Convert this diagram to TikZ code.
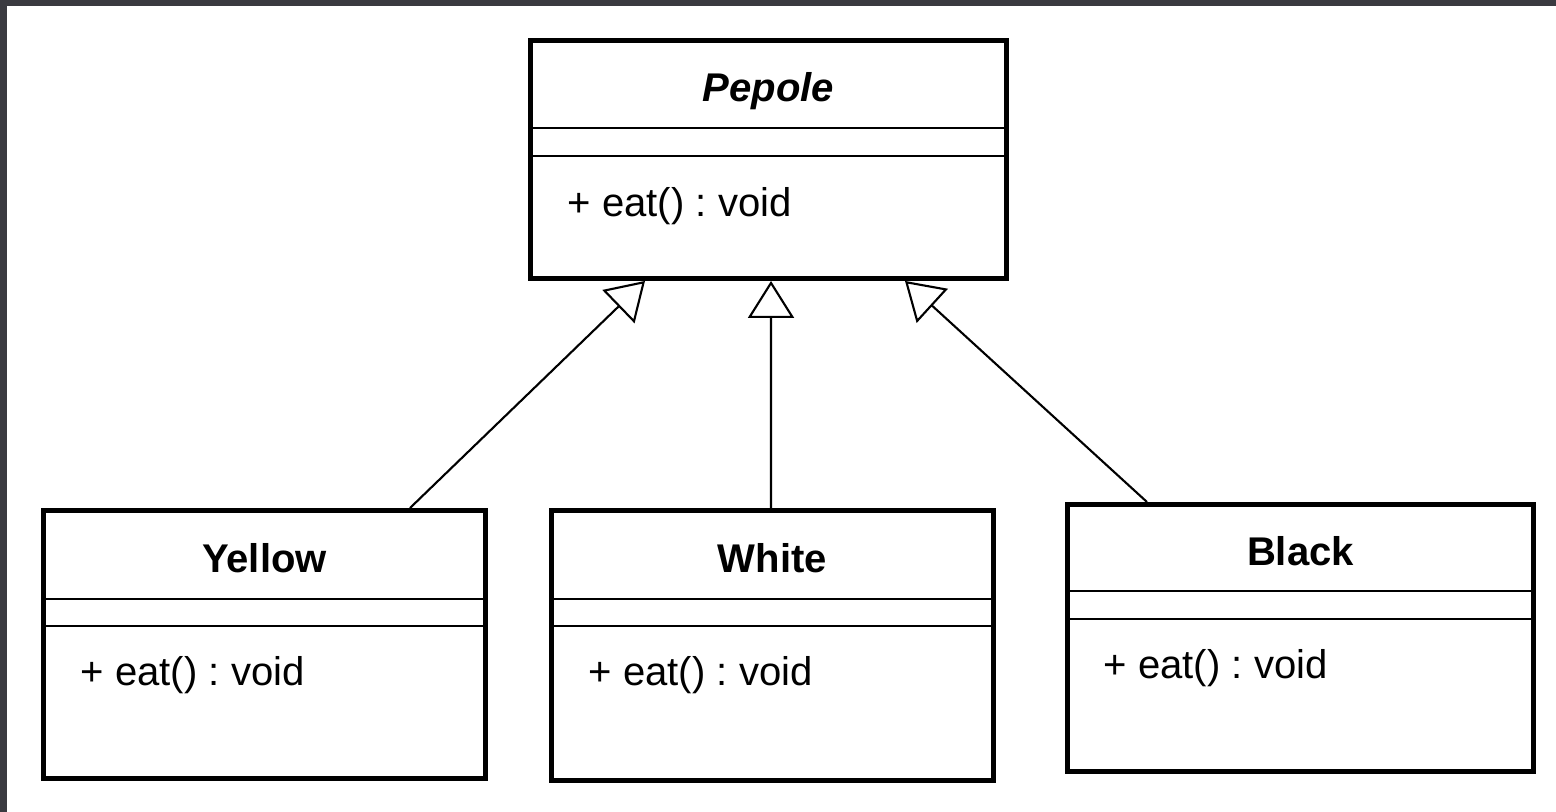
\documentclass[tikz,border=0pt]{standalone}
\usepackage{fontspec}
\setmainfont{Liberation Sans}
\frenchspacing
\usetikzlibrary{arrows.meta, positioning, calc}
\definecolor{frameDark}{RGB}{58, 58, 64}
\tikzset{
    % Class Box Style
    classBox/.style={
        rectangle,
        draw=black,
        line width=1.4pt,
        fill=white,
        inner sep=0pt
    },
    % Text Styles
    classTitle/.style={font=\fontsize{11.4}{13}\selectfont\bfseries, inner sep=0pt},
    classMethod/.style={font=\fontsize{11.4}{13}\selectfont, anchor=west, inner sep=0pt},
    % Line & Arrow Styles
    compartment/.style={line width=0.8pt},
    inherit/.style={-{Triangle[open, length=3.7mm, width=4.6mm]}, line width=0.6pt}
}

\begin{document}
\begin{tikzpicture}

    % --- Frame ---
    \useasboundingbox (0,0) rectangle (15.56,8.12);
    \fill[white] (0,0) rectangle (15.56,8.12);
    \fill[frameDark] (0,8.06) rectangle (15.56,8.12);
    \fill[frameDark] (0,0) rectangle (0.07,8.12);

    % --- PARENT CLASS ---
    \node (pepole) [classBox, minimum width=4.76cm, minimum height=2.38cm] at (7.685,6.525) {};
    \node (pepoleTitle) [classTitle] at ([yshift=-0.53cm]pepole.north) {\textit{Pepole}};
    \draw [compartment] ([yshift=-0.9cm]pepole.north west) -- ([yshift=-0.9cm]pepole.north east);
    \draw [compartment] ([yshift=-1.18cm]pepole.north west) -- ([yshift=-1.18cm]pepole.north east);
    \node (pepoleMethod) [classMethod] at ([xshift=0.39cm, yshift=-1.68cm]pepole.north west) {+ eat() : void};

    % --- CHILD CLASSES ---

    % 1. Yellow
    \node (yellow) [classBox, minimum width=4.42cm, minimum height=2.68cm] at (2.645,1.675) {};
    \node (yellowTitle) [classTitle] at ([yshift=-0.5cm]yellow.north) {Yellow};
    \draw [compartment] ([yshift=-0.91cm]yellow.north west) -- ([yshift=-0.91cm]yellow.north east);
    \draw [compartment] ([yshift=-1.18cm]yellow.north west) -- ([yshift=-1.18cm]yellow.north east);
    \node (yellowMethod) [classMethod] at ([xshift=0.39cm, yshift=-1.67cm]yellow.north west) {+ eat() : void};

    % 2. White
    \node (white) [classBox, minimum width=4.42cm, minimum height=2.70cm] at (7.725,1.665) {};
    \node (whiteTitle) [classTitle] at ([yshift=-0.5cm]white.north) {White};
    \draw [compartment] ([yshift=-0.91cm]white.north west) -- ([yshift=-0.91cm]white.north east);
    \draw [compartment] ([yshift=-1.18cm]white.north west) -- ([yshift=-1.18cm]white.north east);
    \node (whiteMethod) [classMethod] at ([xshift=0.39cm, yshift=-1.67cm]white.north west) {+ eat() : void};

    % 3. Black
    \node (black) [classBox, minimum width=4.66cm, minimum height=2.67cm] at (13.005,1.74) {};
    \node (blackTitle) [classTitle] at ([yshift=-0.49cm]black.north) {Black};
    \draw [compartment] ([yshift=-0.89cm]black.north west) -- ([yshift=-0.89cm]black.north east);
    \draw [compartment] ([yshift=-1.17cm]black.north west) -- ([yshift=-1.17cm]black.north east);
    \node (blackMethod) [classMethod] at ([xshift=0.38cm, yshift=-1.66cm]black.north west) {+ eat() : void};

    % --- Arrows (Generalization) ---
    \draw [inherit] ([xshift=1.455cm]yellow.north) -- ([xshift=-1.235cm]pepole.south);
    \draw [inherit] ([xshift=-0.015cm]white.north) -- ([xshift=0.025cm]pepole.south);
    \draw [inherit] ([xshift=-1.535cm]black.north) -- ([xshift=1.365cm]pepole.south);

\end{tikzpicture}
\end{document}
